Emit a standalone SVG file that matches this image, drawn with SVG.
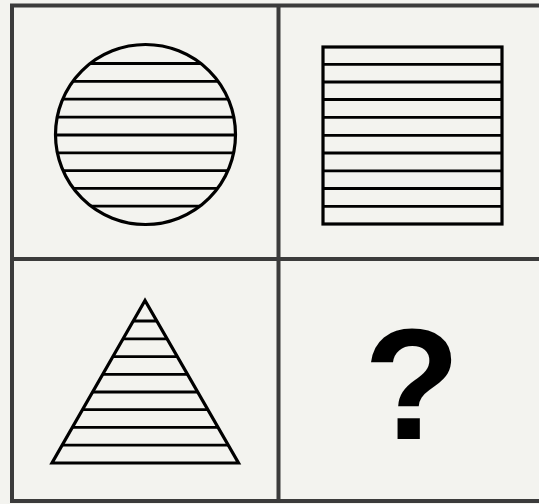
<svg xmlns="http://www.w3.org/2000/svg" width="539" height="504" viewBox="0 0 539 504">
<style>
.frame{stroke:#3b3b3b;stroke-width:4;fill:none}
.shape{stroke:#000;stroke-width:3.2;fill:none}
.stripe{stroke:#000;stroke-width:2.8}
</style>
<defs>
<clipPath id="cc"><circle cx="145.5" cy="134.5" r="90"/></clipPath>
<clipPath id="tc"><polygon points="145,300.5 52,463 238.5,463"/></clipPath>
</defs>
<rect width="539" height="504" fill="#f3f3ef"/>
<g id="grid">
<path class="frame" d="M540,5.5 H12 V501 H540"/>
<line class="frame" x1="278.5" y1="5.5" x2="278.5" y2="501"/>
<line class="frame" x1="12" y1="259" x2="540" y2="259"/>
</g>
<g id="circle">
<g clip-path="url(#cc)" class="stripe">
<line x1="50" y1="63.5" x2="240" y2="63.5"/>
<line x1="50" y1="81.3" x2="240" y2="81.3"/>
<line x1="50" y1="99.2" x2="240" y2="99.2"/>
<line x1="50" y1="117.2" x2="240" y2="117.2"/>
<line x1="50" y1="135" x2="240" y2="135"/>
<line x1="50" y1="152.8" x2="240" y2="152.8"/>
<line x1="50" y1="170.6" x2="240" y2="170.6"/>
<line x1="50" y1="188.4" x2="240" y2="188.4"/>
<line x1="50" y1="206.2" x2="240" y2="206.2"/>
</g>
<circle class="shape" cx="145.5" cy="134.5" r="90"/>
</g>
<g id="square">
<g class="stripe">
<line x1="323" y1="64.3" x2="502" y2="64.3"/>
<line x1="323" y1="82" x2="502" y2="82"/>
<line x1="323" y1="99.5" x2="502" y2="99.5"/>
<line x1="323" y1="117.4" x2="502" y2="117.4"/>
<line x1="323" y1="135.3" x2="502" y2="135.3"/>
<line x1="323" y1="153" x2="502" y2="153"/>
<line x1="323" y1="170.8" x2="502" y2="170.8"/>
<line x1="323" y1="188.5" x2="502" y2="188.5"/>
<line x1="323" y1="206.3" x2="502" y2="206.3"/>
</g>
<rect class="shape" x="323" y="47" width="179" height="177"/>
</g>
<g id="triangle">
<g clip-path="url(#tc)" class="stripe">
<line x1="40" y1="321" x2="250" y2="321"/>
<line x1="40" y1="338.8" x2="250" y2="338.8"/>
<line x1="40" y1="356.6" x2="250" y2="356.6"/>
<line x1="40" y1="374.3" x2="250" y2="374.3"/>
<line x1="40" y1="392" x2="250" y2="392"/>
<line x1="40" y1="409.7" x2="250" y2="409.7"/>
<line x1="40" y1="427.4" x2="250" y2="427.4"/>
<line x1="40" y1="445.2" x2="250" y2="445.2"/>
</g>
<polygon class="shape" points="145,300.5 52,463 238.5,463" stroke-linejoin="miter"/>
</g>
<g id="question">
<text x="412" y="439" text-anchor="middle" font-family="Liberation Sans, Arial, sans-serif" font-weight="bold" font-size="158" fill="#000">?</text>
</g>
</svg>
